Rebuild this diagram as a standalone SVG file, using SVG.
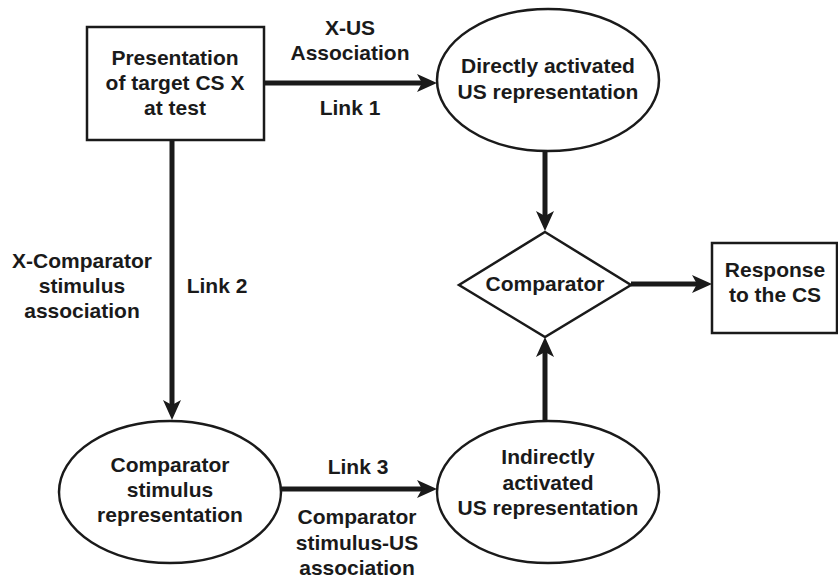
<svg xmlns="http://www.w3.org/2000/svg" width="838" height="579" viewBox="0 0 838 579">
<defs>
<style>
text{font-family:"Liberation Sans",Arial,Helvetica,sans-serif;font-weight:bold;font-size:21px;fill:#1a1a1a;text-anchor:middle}
.shape{fill:#fff;stroke:#1a1a1a;stroke-width:2.5}
.conn{stroke:#1a1a1a;stroke-width:5;fill:none}
</style>
<marker id="ah" markerUnits="userSpaceOnUse" markerWidth="22" markerHeight="20" refX="8" refY="9" orient="auto">
<path d="M0,0 L20,9 L0,18 L5,9 z" fill="#1a1a1a"/>
</marker>
</defs>
<rect width="838" height="579" fill="#fff"/>
<g id="connectors">
<line class="conn" x1="264" y1="83" x2="425" y2="83" marker-end="url(#ah)"/>
<line class="conn" x1="545" y1="151" x2="545" y2="219" marker-end="url(#ah)"/>
<line class="conn" x1="172" y1="140" x2="172" y2="408" marker-end="url(#ah)"/>
<line class="conn" x1="281" y1="489" x2="425" y2="489" marker-end="url(#ah)"/>
<line class="conn" x1="545" y1="420" x2="545" y2="349" marker-end="url(#ah)"/>
<line class="conn" x1="631" y1="284" x2="700" y2="284" marker-end="url(#ah)"/>
</g>
<g id="labels">
<text x="350" y="35">X-US</text>
<text x="350" y="60">Association</text>
<text x="350" y="115">Link 1</text>
<text x="82" y="268">X-Comparator</text>
<text x="82" y="293">stimulus</text>
<text x="82" y="318">association</text>
<text x="217" y="293">Link 2</text>
<text x="358" y="474">Link 3</text>
<text x="357" y="524">Comparator</text>
<text x="357" y="550">stimulus-US</text>
<text x="357" y="575">association</text>
</g>
<g id="presentation">
<rect class="shape" x="87" y="27" width="177" height="113"/>
<text x="175" y="65">Presentation</text>
<text x="175" y="90">of target CS X</text>
<text x="175" y="115">at test</text>
</g>
<g id="direct">
<ellipse class="shape" cx="548" cy="80" rx="111" ry="71"/>
<text x="548" y="73">Directly activated</text>
<text x="548" y="99">US representation</text>
</g>
<g id="comparator">
<polygon class="shape" points="545,232 631,285 545,337 459,285"/>
<text x="545" y="291">Comparator</text>
</g>
<g id="response">
<rect class="shape" x="712" y="243" width="125" height="90"/>
<text x="775" y="277">Response</text>
<text x="775" y="302">to the CS</text>
</g>
<g id="compstim">
<ellipse class="shape" cx="170" cy="492" rx="111" ry="71"/>
<text x="170" y="472">Comparator</text>
<text x="170" y="497">stimulus</text>
<text x="170" y="522">representation</text>
</g>
<g id="indirect">
<ellipse class="shape" cx="548" cy="492" rx="111" ry="71"/>
<text x="548" y="464">Indirectly</text>
<text x="548" y="490">activated</text>
<text x="548" y="515">US representation</text>
</g>
</svg>
